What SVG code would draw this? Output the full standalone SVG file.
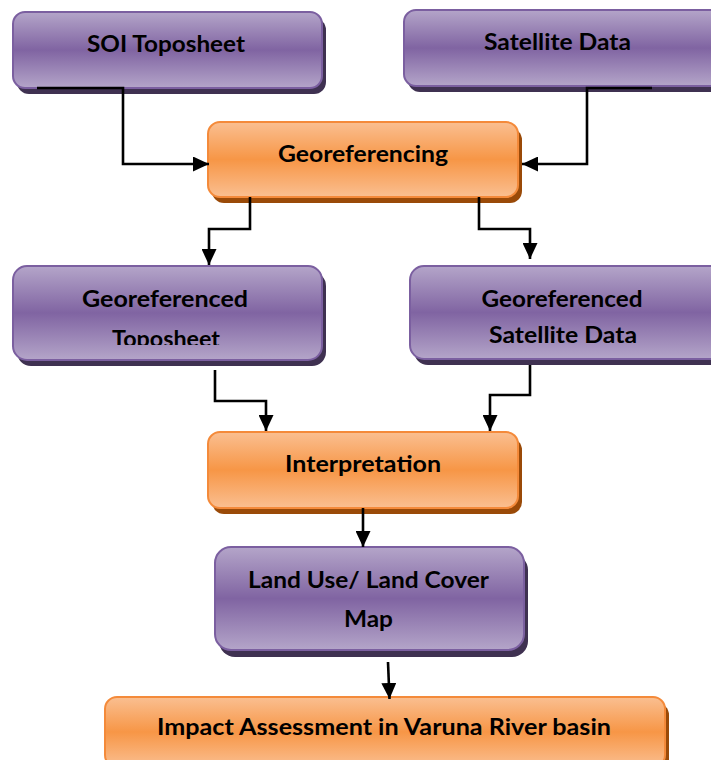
<svg xmlns="http://www.w3.org/2000/svg" width="711" height="760" viewBox="0 0 711 760">
<defs>
<linearGradient id="gp" x1="0" y1="0" x2="0" y2="1">
<stop offset="0" stop-color="#b4a5c9"/>
<stop offset="0.5" stop-color="#8064a2"/>
<stop offset="1" stop-color="#b4a5c9"/>
</linearGradient>
<linearGradient id="go" x1="0" y1="0" x2="0" y2="1">
<stop offset="0" stop-color="#fabf91"/>
<stop offset="0.5" stop-color="#f79646"/>
<stop offset="1" stop-color="#fabf91"/>
</linearGradient>
<marker id="ah" markerUnits="userSpaceOnUse" markerWidth="16" markerHeight="15" refX="16" refY="7.5" orient="auto">
<path d="M0,0 L16,7.5 L0,15 z" fill="#000"/>
</marker>
<clipPath id="clipTopo"><rect x="0" y="260" width="340" height="85"/></clipPath>
</defs>
<style>
.p{fill:url(#gp);stroke:#7b5fa0;stroke-width:2}
.ps{fill:#3f3151}
.o{fill:url(#go);stroke:#f48a3a;stroke-width:2}
.os{fill:#9a4a08}
text{font-family:Lato,"Open Sans","Liberation Sans",sans-serif;font-weight:bold;font-size:23px;fill:#000;text-anchor:middle}
.c{fill:none;stroke:#000;stroke-width:2.6;marker-end:url(#ah)}
</style>

<g id="soi">
<rect class="ps" x="17" y="18" width="309" height="76" rx="12"/>
<rect class="p" x="13" y="12" width="309" height="76" rx="12"/>
<text x="166" y="52" textLength="158" lengthAdjust="spacingAndGlyphs">SOI Toposheet</text>
</g>

<g id="satellite">
<rect class="ps" x="408" y="16" width="320" height="76" rx="12"/>
<rect class="p" x="404" y="10" width="320" height="76" rx="12"/>
<text x="557.5" y="50" textLength="147" lengthAdjust="spacingAndGlyphs">Satellite Data</text>
</g>

<g id="georef">
<rect class="os" x="212" y="128" width="310" height="75" rx="12"/>
<rect class="o" x="208" y="122" width="310" height="75" rx="12"/>
<text x="363" y="162" textLength="170" lengthAdjust="spacingAndGlyphs">Georeferencing</text>
</g>

<g id="geotopo">
<rect class="ps" x="17" y="272" width="309" height="94" rx="14"/>
<rect class="p" x="13" y="266" width="309" height="94" rx="14"/>
<text x="165" y="306.5" textLength="166" lengthAdjust="spacingAndGlyphs">Georeferenced</text>
<text x="166" y="347" textLength="108" lengthAdjust="spacingAndGlyphs" clip-path="url(#clipTopo)">Toposheet</text>
</g>

<g id="geosat">
<rect class="ps" x="414" y="272" width="320" height="93" rx="14"/>
<rect class="p" x="410" y="266" width="320" height="93" rx="14"/>
<text x="562" y="306.5" textLength="161" lengthAdjust="spacingAndGlyphs">Georeferenced</text>
<text x="563" y="343" textLength="148" lengthAdjust="spacingAndGlyphs">Satellite Data</text>
</g>

<g id="interp">
<rect class="os" x="212" y="438" width="310" height="76" rx="12"/>
<rect class="o" x="208" y="432" width="310" height="76" rx="12"/>
<text x="363" y="472" textLength="156" lengthAdjust="spacingAndGlyphs">Interpretation</text>
</g>

<g id="lulc">
<rect class="ps" x="219" y="554" width="309" height="103" rx="16"/>
<rect class="p" x="215" y="547" width="309" height="103" rx="16"/>
<text x="368.5" y="588" textLength="241" lengthAdjust="spacingAndGlyphs">Land Use/ Land Cover</text>
<text x="368.5" y="627" textLength="49" lengthAdjust="spacingAndGlyphs">Map</text>
</g>

<g id="impact">
<rect class="os" x="109" y="703" width="560" height="70" rx="12"/>
<rect class="o" x="105" y="697" width="560" height="70" rx="12"/>
<text x="384" y="735" textLength="454" lengthAdjust="spacingAndGlyphs">Impact Assessment in Varuna River basin</text>
</g>

<g id="connectors">
<path class="c" d="M37,88 H123 V164 H209"/>
<path class="c" d="M652,88 H587 V164 H522"/>
<path class="c" d="M250,197 V229 H209 V265"/>
<path class="c" d="M479,197 V229 H530 V259"/>
<path class="c" d="M215,370 V401 H266 V431"/>
<path class="c" d="M530,365 V395 H490 V431"/>
<path class="c" d="M363,508 V547"/>
<path class="c" d="M388,662 L389.5,699"/>
</g>
</svg>
